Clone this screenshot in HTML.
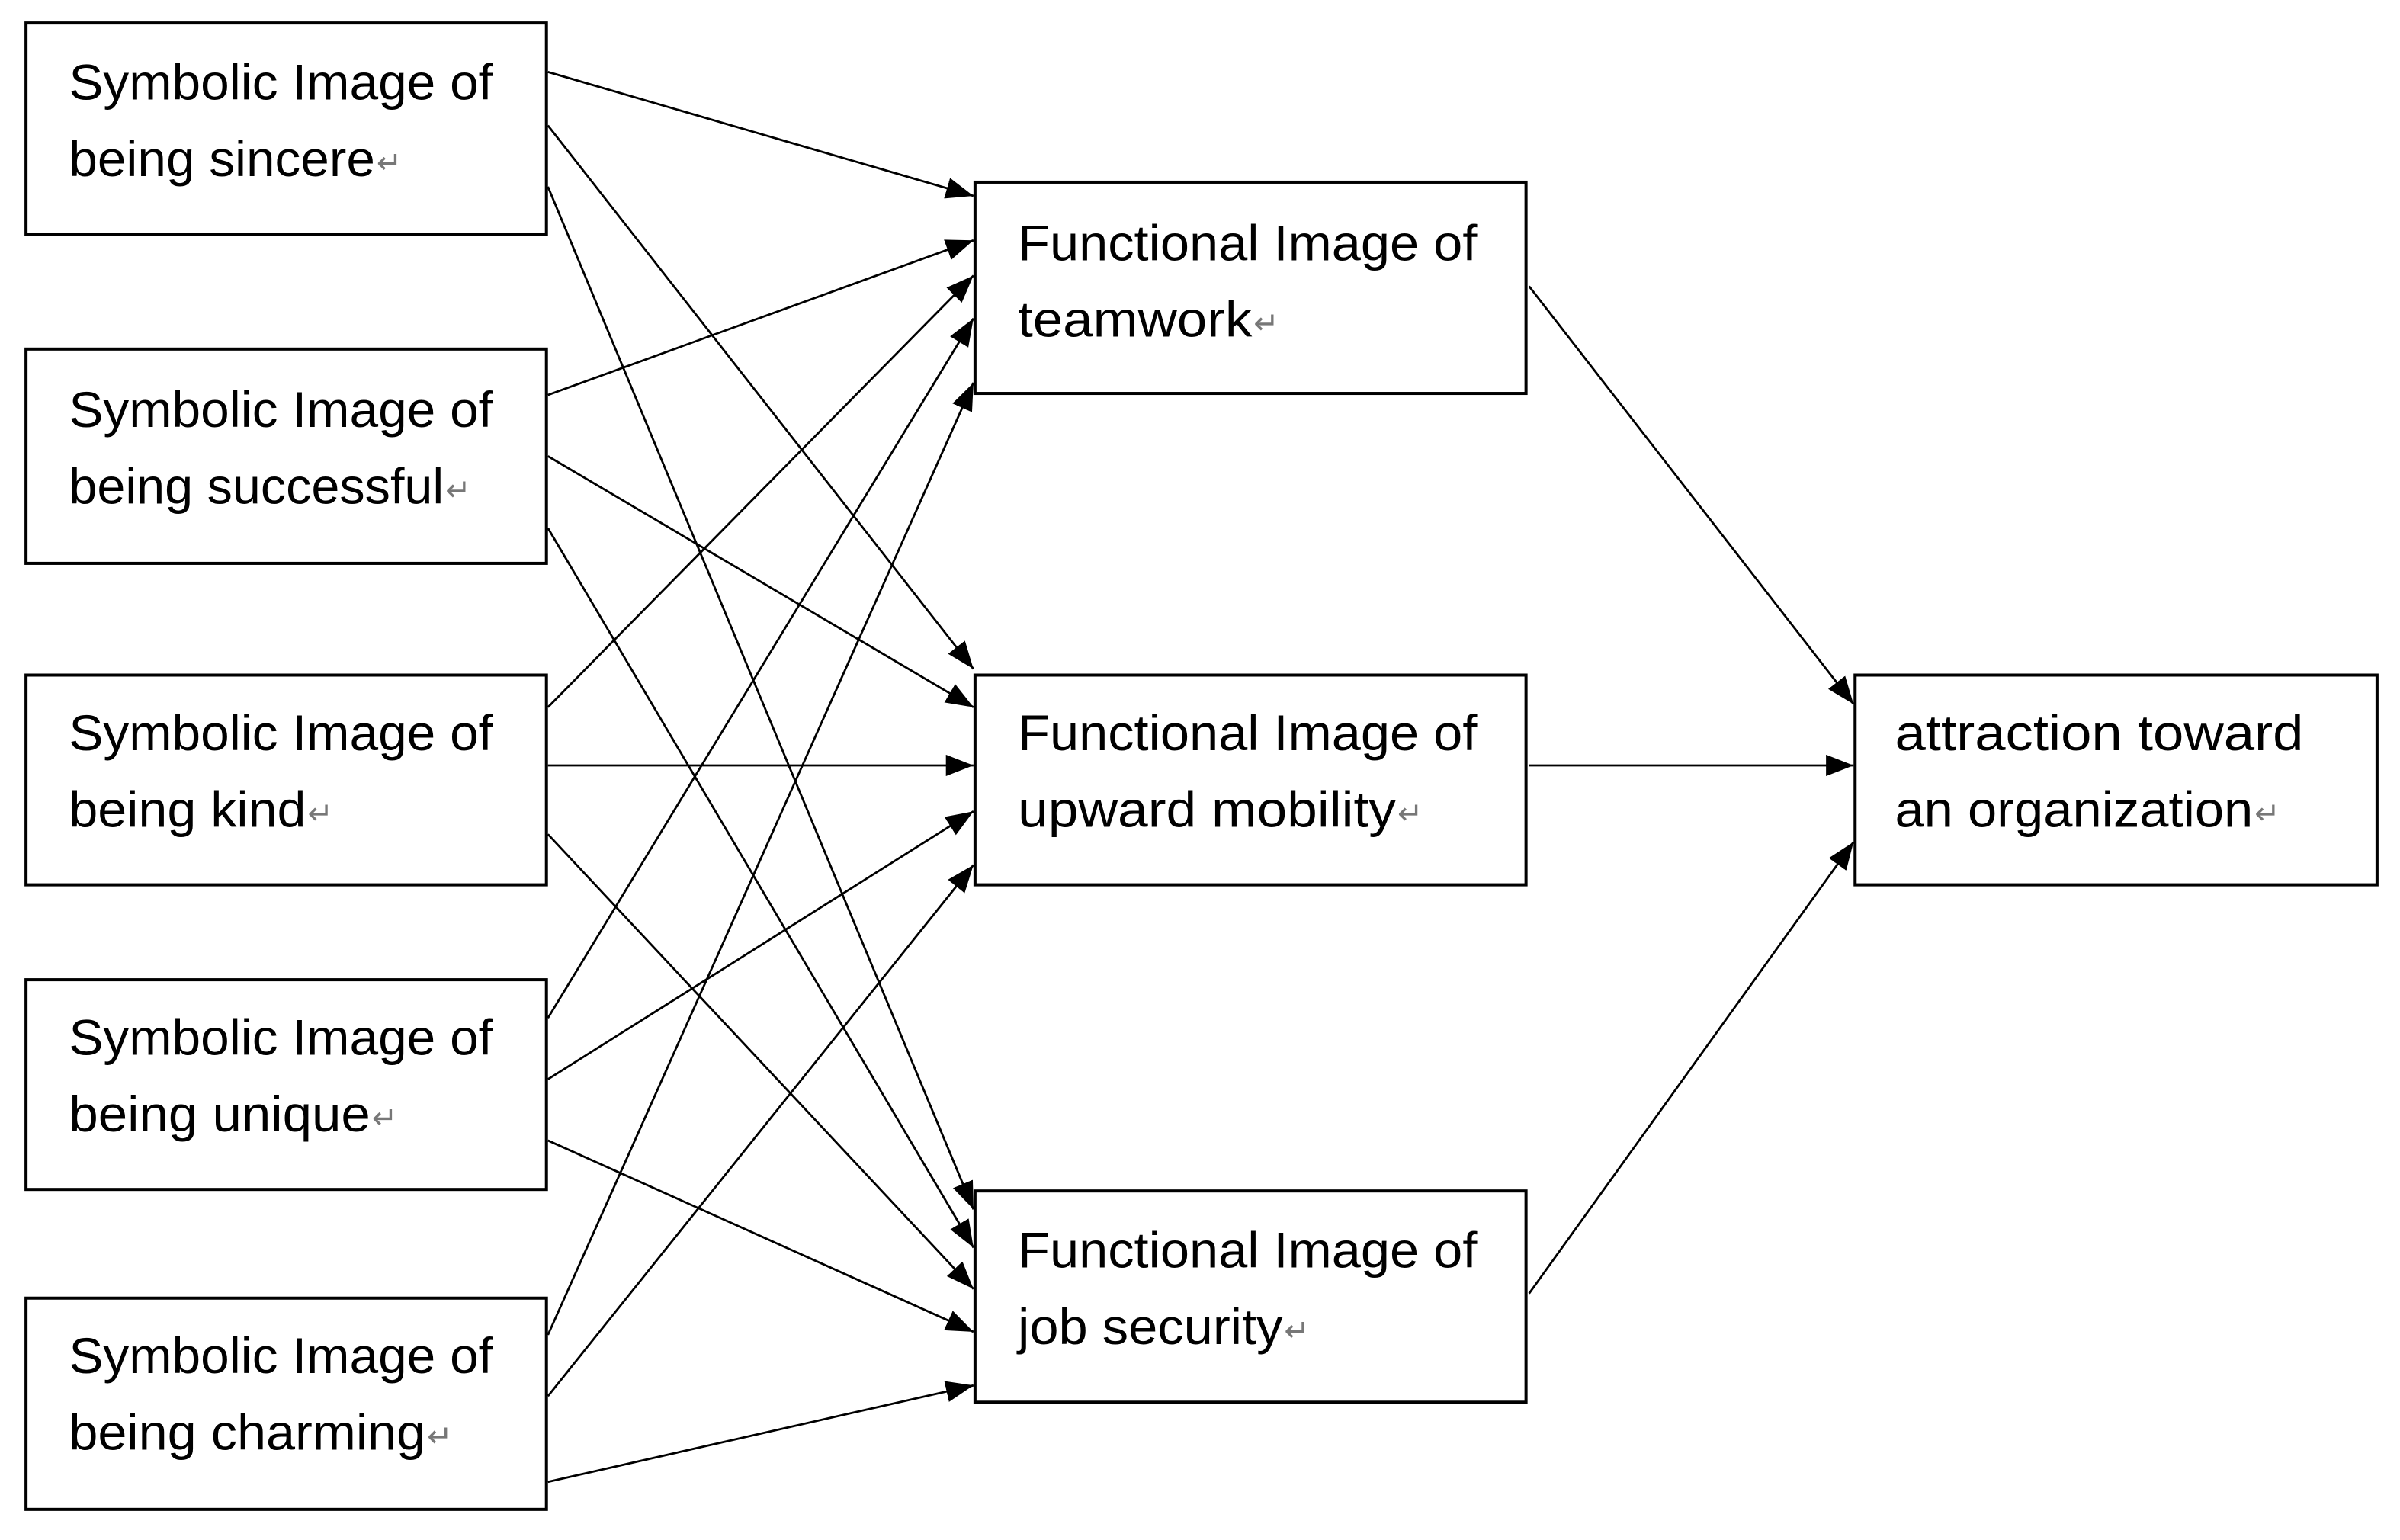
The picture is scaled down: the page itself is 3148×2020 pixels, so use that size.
<!DOCTYPE html>
<html><head><meta charset="utf-8"><style>
html,body{margin:0;padding:0;background:#fff;}
svg{display:block;}
text{font-family:"Liberation Sans",sans-serif;font-size:33px;fill:#000;}
.r{font-size:20px;fill:#777;}
</style></head><body>
<svg width="3148" height="2020" viewBox="0 0 1568 1006" preserveAspectRatio="none" xmlns="http://www.w3.org/2000/svg">
<defs>
<marker id="a" markerUnits="userSpaceOnUse" markerWidth="20" markerHeight="14" refX="18" refY="7" orient="auto">
<path d="M0,0 L18,7 L0,14 Z" fill="#000"/>
</marker>
</defs>
<g stroke="#000" stroke-width="1.4" fill="none" marker-end="url(#a)">
<line x1="358" y1="47" x2="636" y2="128"/>
<line x1="358" y1="82" x2="636" y2="437"/>
<line x1="358" y1="122" x2="636" y2="790"/>
<line x1="358" y1="258" x2="636" y2="157"/>
<line x1="358" y1="298" x2="636" y2="462"/>
<line x1="358" y1="345" x2="636" y2="815"/>
<line x1="358" y1="462" x2="636" y2="180"/>
<line x1="358" y1="500" x2="636" y2="500"/>
<line x1="358" y1="545" x2="636" y2="842"/>
<line x1="358" y1="665" x2="636" y2="208"/>
<line x1="358" y1="705" x2="636" y2="530"/>
<line x1="358" y1="745" x2="636" y2="870"/>
<line x1="358" y1="872" x2="636" y2="250"/>
<line x1="358" y1="912" x2="636" y2="565"/>
<line x1="358" y1="968" x2="636" y2="905"/>
<line x1="999" y1="187" x2="1211" y2="460"/>
<line x1="999" y1="500" x2="1211" y2="500"/>
<line x1="999" y1="845" x2="1211" y2="550"/>
</g>
<g stroke="#000" stroke-width="2" fill="#fff">
<rect x="17" y="15" width="340" height="138"/>
<rect x="17" y="228" width="340" height="140"/>
<rect x="17" y="441" width="340" height="137"/>
<rect x="17" y="640" width="340" height="137"/>
<rect x="17" y="848" width="340" height="138"/>
<rect x="637" y="119" width="360" height="138"/>
<rect x="637" y="441" width="360" height="137"/>
<rect x="637" y="778" width="360" height="138"/>
<rect x="1212" y="441" width="341" height="137"/>
</g>
<g>
<text x="45" y="65" textLength="277" lengthAdjust="spacingAndGlyphs">Symbolic Image of</text>
<text x="45" y="115" textLength="200" lengthAdjust="spacingAndGlyphs">being sincere</text><text class="r" x="246" y="113">↵</text>
<text x="45" y="279" textLength="277" lengthAdjust="spacingAndGlyphs">Symbolic Image of</text>
<text x="45" y="329" textLength="245" lengthAdjust="spacingAndGlyphs">being successful</text><text class="r" x="291" y="327">↵</text>
<text x="45" y="490" textLength="277" lengthAdjust="spacingAndGlyphs">Symbolic Image of</text>
<text x="45" y="540" textLength="155" lengthAdjust="spacingAndGlyphs">being kind</text><text class="r" x="201" y="538">↵</text>
<text x="45" y="689" textLength="277" lengthAdjust="spacingAndGlyphs">Symbolic Image of</text>
<text x="45" y="739" textLength="197" lengthAdjust="spacingAndGlyphs">being unique</text><text class="r" x="243" y="737">↵</text>
<text x="45" y="897" textLength="277" lengthAdjust="spacingAndGlyphs">Symbolic Image of</text>
<text x="45" y="947" textLength="233" lengthAdjust="spacingAndGlyphs">being charming</text><text class="r" x="279" y="945">↵</text>
<text x="665" y="170" textLength="300" lengthAdjust="spacingAndGlyphs">Functional Image of</text>
<text x="665" y="220" textLength="153" lengthAdjust="spacingAndGlyphs">teamwork</text><text class="r" x="819" y="218">↵</text>
<text x="665" y="490" textLength="300" lengthAdjust="spacingAndGlyphs">Functional Image of</text>
<text x="665" y="540" textLength="247" lengthAdjust="spacingAndGlyphs">upward mobility</text><text class="r" x="913" y="538">↵</text>
<text x="665" y="828" textLength="300" lengthAdjust="spacingAndGlyphs">Functional Image of</text>
<text x="665" y="878" textLength="173" lengthAdjust="spacingAndGlyphs">job security</text><text class="r" x="839" y="876">↵</text>
<text x="1238" y="490" textLength="267" lengthAdjust="spacingAndGlyphs">attraction toward</text>
<text x="1238" y="540" textLength="234" lengthAdjust="spacingAndGlyphs">an organization</text><text class="r" x="1473" y="538">↵</text>
</g>
</svg>
</body></html>
